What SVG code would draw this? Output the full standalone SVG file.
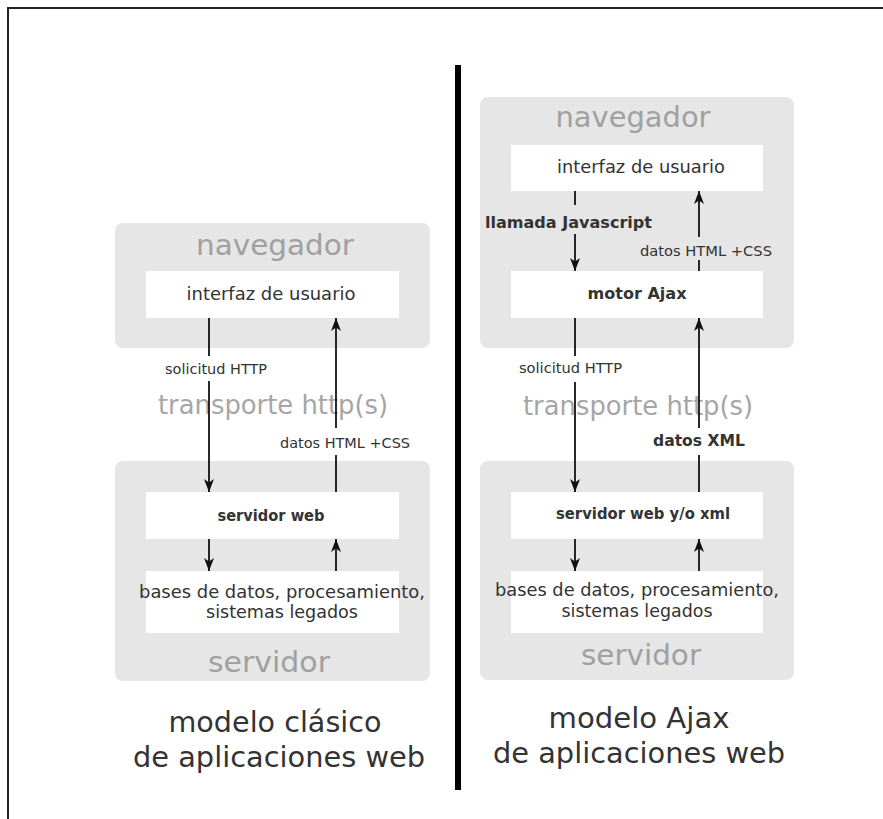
<svg xmlns="http://www.w3.org/2000/svg" width="883" height="819" viewBox="0 0 883 819">
<style>
.grp{fill:#e6e6e6}
.wb{fill:#ffffff}
.ttl{font-family:"DejaVu Sans",Verdana,sans-serif;font-size:29px;fill:#a0a0a0;text-anchor:middle}
.tr{font-family:"DejaVu Sans",Verdana,sans-serif;font-size:26px;fill:#a6a6a6}
.t{font-family:"DejaVu Sans",Verdana,sans-serif;font-size:17px;fill:#333;text-anchor:middle}
.b{font-family:"DejaVu Sans Condensed","DejaVu Sans",sans-serif;font-size:15px;font-weight:bold;fill:#333;text-anchor:middle}
.s{font-family:"DejaVu Sans Condensed","DejaVu Sans",sans-serif;font-size:14px;fill:#333}
.sb{font-family:"DejaVu Sans Condensed","DejaVu Sans",sans-serif;font-size:15px;font-weight:bold;fill:#333}
.big{font-family:"DejaVu Sans",Verdana,sans-serif;font-size:28px;fill:#333;text-anchor:middle}
.ln{stroke:#111;stroke-width:1.8;fill:none}
.la{stroke:#111;stroke-width:1.8;fill:none;marker-end:url(#ah)}
</style>
<defs>
<marker id="ah" viewBox="0 0 13 10" refX="13" refY="5" markerWidth="13" markerHeight="10" markerUnits="userSpaceOnUse" orient="auto">
<path d="M0,0 L13,5 L0,10 L3.5,5 Z" fill="#111"/>
</marker>
</defs>
<rect width="883" height="819" fill="#fff"/>
<g id="frame">
<path d="M8,819 V8 H883" fill="none" stroke="#222" stroke-width="2"/>
<rect x="455" y="65" width="6" height="725" fill="#000"/>
</g>
<g id="left-navegador">
<rect class="grp" x="115" y="223" width="315" height="125" rx="8"/>
<text class="ttl" x="275" y="255" textLength="158" lengthAdjust="spacingAndGlyphs">navegador</text>
</g>
<g id="left-interfaz">
<rect class="wb" x="146" y="271" width="253" height="47"/>
<text class="t" x="271" y="300" textLength="169" lengthAdjust="spacingAndGlyphs">interfaz de usuario</text>
</g>
<g id="left-servidor">
<rect class="grp" x="115" y="461" width="315" height="220" rx="8"/>
<text class="ttl" x="269" y="672" textLength="122" lengthAdjust="spacingAndGlyphs">servidor</text>
</g>
<g id="left-servidorweb">
<rect class="wb" x="146" y="492" width="253" height="47"/>
<text class="b" x="271" y="521" textLength="107" lengthAdjust="spacingAndGlyphs">servidor web</text>
</g>
<g id="left-bases">
<rect class="wb" x="146" y="571" width="253" height="62"/>
<text class="t" x="282" y="598" textLength="286" lengthAdjust="spacingAndGlyphs">bases de datos, procesamiento,</text>
<text class="t" x="282" y="618" textLength="152" lengthAdjust="spacingAndGlyphs">sistemas legados</text>
</g>
<g id="left-transporte">
<text class="tr" x="158" y="414" textLength="230" lengthAdjust="spacingAndGlyphs">transporte http(s)</text>
</g>
<g id="left-title">
<text class="big" x="275" y="732" textLength="213" lengthAdjust="spacingAndGlyphs">modelo clásico</text>
<text class="big" x="279" y="767" textLength="292" lengthAdjust="spacingAndGlyphs">de aplicaciones web</text>
</g>
<g id="right-navegador">
<rect class="grp" x="480" y="97" width="314" height="251" rx="8"/>
<text class="ttl" x="633" y="127" textLength="155" lengthAdjust="spacingAndGlyphs">navegador</text>
</g>
<g id="right-interfaz">
<rect class="wb" x="511" y="145" width="252" height="46"/>
<text class="t" x="641" y="173" textLength="168" lengthAdjust="spacingAndGlyphs">interfaz de usuario</text>
</g>
<g id="right-motor">
<rect class="wb" x="511" y="271" width="252" height="47"/>
<text class="b" x="637" y="299" textLength="99" lengthAdjust="spacingAndGlyphs">motor Ajax</text>
</g>
<g id="right-servidor">
<rect class="grp" x="480" y="461" width="314" height="219" rx="8"/>
<text class="ttl" x="641" y="665" textLength="120" lengthAdjust="spacingAndGlyphs">servidor</text>
</g>
<g id="right-servidorweb">
<rect class="wb" x="511" y="492" width="252" height="47"/>
<text class="b" x="643" y="519" textLength="174" lengthAdjust="spacingAndGlyphs">servidor web y/o xml</text>
</g>
<g id="right-bases">
<rect class="wb" x="511" y="571" width="252" height="62"/>
<text class="t" x="637" y="596" textLength="284" lengthAdjust="spacingAndGlyphs">bases de datos, procesamiento,</text>
<text class="t" x="637" y="617" textLength="151" lengthAdjust="spacingAndGlyphs">sistemas legados</text>
</g>
<g id="right-transporte">
<text class="tr" x="523" y="415" textLength="230" lengthAdjust="spacingAndGlyphs">transporte http(s)</text>
</g>
<g id="right-title">
<text class="big" x="639" y="728" textLength="181" lengthAdjust="spacingAndGlyphs">modelo Ajax</text>
<text class="big" x="639" y="763" textLength="292" lengthAdjust="spacingAndGlyphs">de aplicaciones web</text>
</g>
<g id="connectors">
<line class="ln" x1="209" y1="318" x2="209" y2="356"/>
<line class="la" x1="209" y1="381" x2="209" y2="492"/>
<line class="ln" x1="336" y1="492" x2="336" y2="455"/>
<line class="la" x1="336" y1="428" x2="336" y2="318"/>
<line class="la" x1="209" y1="539" x2="209" y2="571"/>
<line class="la" x1="336" y1="571" x2="336" y2="539"/>
<line class="ln" x1="575" y1="191" x2="575" y2="205"/>
<line class="la" x1="575" y1="234" x2="575" y2="271"/>
<line class="ln" x1="699" y1="271" x2="699" y2="260"/>
<line class="la" x1="699" y1="237" x2="699" y2="191"/>
<line class="ln" x1="575" y1="318" x2="575" y2="356"/>
<line class="la" x1="575" y1="382" x2="575" y2="492"/>
<line class="ln" x1="699" y1="492" x2="699" y2="455"/>
<line class="la" x1="699" y1="428" x2="699" y2="318"/>
<line class="la" x1="575" y1="539" x2="575" y2="571"/>
<line class="la" x1="699" y1="571" x2="699" y2="539"/>
</g>
<g id="connector-labels">
<text class="s" x="165" y="374" textLength="102" lengthAdjust="spacingAndGlyphs">solicitud HTTP</text>
<text class="s" x="280" y="448" textLength="130" lengthAdjust="spacingAndGlyphs">datos HTML +CSS</text>
<text class="sb" x="485" y="228" textLength="167" lengthAdjust="spacingAndGlyphs">llamada Javascript</text>
<text class="s" x="640" y="256" textLength="132" lengthAdjust="spacingAndGlyphs">datos HTML +CSS</text>
<text class="s" x="519" y="373" textLength="103" lengthAdjust="spacingAndGlyphs">solicitud HTTP</text>
<text class="sb" x="653" y="446" textLength="92" lengthAdjust="spacingAndGlyphs">datos XML</text>
</g>
</svg>
